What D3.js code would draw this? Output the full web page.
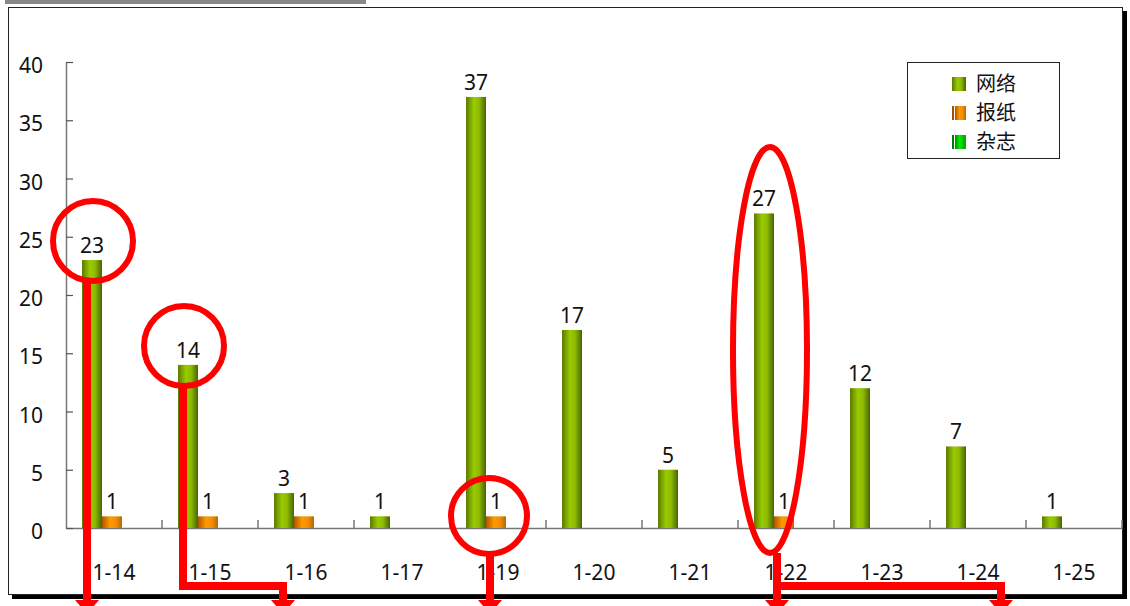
<!DOCTYPE html>
<html>
<head>
<meta charset="utf-8">
<script src="https://cdn.jsdelivr.net/npm/d3@7"></script>
<style>
  body { margin: 0; background: #fff; }
  text { font-family: "Noto Sans", "Noto Sans CJK SC", sans-serif; fill: #111; }
</style>
</head>
<body>
<div id="chart"></div>
<script>
// Data
var categories = ["1-14", "1-15", "1-16", "1-17", "1-19", "1-20", "1-21", "1-22", "1-23", "1-24", "1-25"];
var network   = [23, 14, 3, 1, 37, 17, 5, 27, 12, 7, 1];
var newspaper = [1, 1, 1, null, 1, null, null, 1, null, null, null];
var magazine  = [null, null, null, null, null, null, null, null, null, null, null];
var seriesNames = ["网络", "报纸", "杂志"];
var yTicks = [0, 5, 10, 15, 20, 25, 30, 35, 40];

var w = 1130, h = 606;

var svg = d3.select("#chart").append("svg")
  .attr("width", w)
  .attr("height", h);

// gradients for the bars
var defs = svg.append("defs");
function grad(id, stops) {
  var g = defs.append("linearGradient").attr("id", id)
    .attr("x1", "0%").attr("x2", "100%").attr("y1", "0%").attr("y2", "0%");
  stops.forEach(function(s) {
    g.append("stop").attr("offset", s[0]).attr("stop-color", s[1]);
  });
}
grad("gGreen", [["0%", "#5c7a00"], ["40%", "#9acc00"], ["65%", "#8cbb00"], ["100%", "#4a6300"]]);
grad("gOrange", [["0%", "#a85800"], ["40%", "#ff9900"], ["70%", "#f08f00"], ["100%", "#b86800"]]);
grad("gLime", [["0%", "#008a00"], ["40%", "#00ee00"], ["100%", "#00a000"]]);
var fills = ["url(#gGreen)", "url(#gOrange)", "url(#gLime)"];
var darks = ["#5c7a00", "#a05000", "#007a00"];

// gray strip at top + frame with shadow
svg.append("rect").attr("x", 5).attr("y", 0).attr("width", 361).attr("height", 4).attr("fill", "#888");
svg.append("rect").attr("x", 12).attr("y", 11).attr("width", 1115).attr("height", 588).attr("fill", "#000");
svg.append("rect").attr("x", 8.5).attr("y", 7.5).attr("width", 1114).attr("height", 587)
  .attr("fill", "#fff").attr("stroke", "#222").attr("stroke-width", 1);

// scales
var x0 = d3.scaleBand().domain(categories).range([66, 1122]);
var x1 = d3.scaleBand().domain(seriesNames).range([16, 76]);
var y = d3.scaleLinear().domain([0, 40]).range([528, 62]);

var table = categories.map(function(c, i) {
  return { cat: c, values: [network[i], newspaper[i], magazine[i]] };
});

// axes
var xAxis = svg.append("g").attr("transform", "translate(0,528)")
  .call(d3.axisBottom(x0).tickSize(0).tickPadding(37).tickSizeOuter(0));
xAxis.select(".domain").attr("stroke", "#777").attr("stroke-width", 1.5);
xAxis.selectAll("text").style("font-size", "21px").attr("fill", "#111");

// category boundary ticks (pointing up)
svg.append("g").selectAll("line")
  .data(categories.map(function(c) { return x0(c) + x0.bandwidth(); }))
  .enter().append("line")
  .attr("x1", function(d) { return d; }).attr("x2", function(d) { return d; })
  .attr("y1", 528).attr("y2", 520)
  .attr("stroke", "#777").attr("stroke-width", 1.5);

var yAxis = svg.append("g").attr("transform", "translate(66,0)")
  .call(d3.axisLeft(y).tickValues(yTicks).tickSize(-7).tickPadding(23).tickSizeOuter(0));
yAxis.select(".domain").attr("stroke", "#777").attr("stroke-width", 1.5);
yAxis.selectAll(".tick line").attr("stroke", "#555").attr("stroke-width", 1.2);
yAxis.selectAll("text").style("font-size", "21px").attr("fill", "#111").attr("dy", "0.5em");

// bars
var groups = svg.append("g").selectAll("g")
  .data(table)
  .enter().append("g")
  .attr("transform", function(d) { return "translate(" + x0(d.cat) + ",0)"; });

var cells = groups.selectAll("g")
  .data(function(d) {
    return d.values.map(function(v, i) { return { key: seriesNames[i], idx: i, value: v }; })
      .filter(function(e) { return e.value != null; });
  })
  .enter().append("g");

cells.append("rect")
  .attr("x", function(d) { return x1(d.key); })
  .attr("width", x1.bandwidth())
  .attr("y", function(d) { return y(d.value); })
  .attr("height", function(d) { return y(0) - y(d.value); })
  .attr("fill", function(d) { return fills[d.idx]; });

cells.append("text")
  .attr("x", function(d) { return x1(d.key) + x1.bandwidth() / 2; })
  .attr("y", function(d) { return y(d.value) - 7; })
  .attr("text-anchor", "middle")
  .style("font-size", "21px")
  .text(function(d) { return d.value; });

// legend
var legend = svg.append("g").attr("transform", "translate(907,62)");
legend.append("rect").attr("x", 0.5).attr("y", 0.5).attr("width", 152).attr("height", 96)
  .attr("fill", "#fff").attr("stroke", "#222");
var items = legend.selectAll(".item")
  .data(seriesNames)
  .enter().append("g")
  .attr("class", "item")
  .attr("transform", function(d, i) { return "translate(0," + (22 + i * 29) + ")"; });
items.append("rect")
  .attr("x", function(d, i) { return i === 0 ? 45 : 48; })
  .attr("y", -7)
  .attr("width", function(d, i) { return i === 0 ? 14 : 11; })
  .attr("height", 14)
  .attr("fill", function(d, i) { return fills[i]; });
items.filter(function(d, i) { return i > 0; }).append("rect")
  .attr("x", 45).attr("y", -7).attr("width", 2).attr("height", 14)
  .attr("fill", function(d) { return darks[seriesNames.indexOf(d)]; });
items.append("text")
  .attr("x", 69).attr("y", 0).attr("dy", "0.36em")
  .style("font-size", "20px")
  .text(function(d) { return d; });

// red annotations
var red = "#ff0000";
var ann = svg.append("g").attr("fill", "none").attr("stroke", red);
[[93, 241, 40], [184, 346, 40], [489, 516, 38]].forEach(function(c) {
  ann.append("circle").attr("cx", c[0]).attr("cy", c[1]).attr("r", c[2]).attr("stroke-width", 6);
});
ann.append("ellipse").attr("cx", 770).attr("cy", 350).attr("rx", 37).attr("ry", 203).attr("stroke-width", 6);

var paths = [
  "M87,281 V600",
  "M183,386 V586 H283 V600",
  "M490,554 V600",
  "M777,553 V600",
  "M777,586 H1001 V600"
];
paths.forEach(function(p) {
  ann.append("path").attr("d", p).attr("stroke-width", 8).attr("stroke-linejoin", "miter");
});
[87, 283, 490, 777, 1001].forEach(function(ax) {
  svg.append("path")
    .attr("d", "M" + (ax - 12) + ",600 L" + (ax + 12) + ",600 L" + ax + ",614 Z")
    .attr("fill", red);
});
</script>
</body>
</html>
